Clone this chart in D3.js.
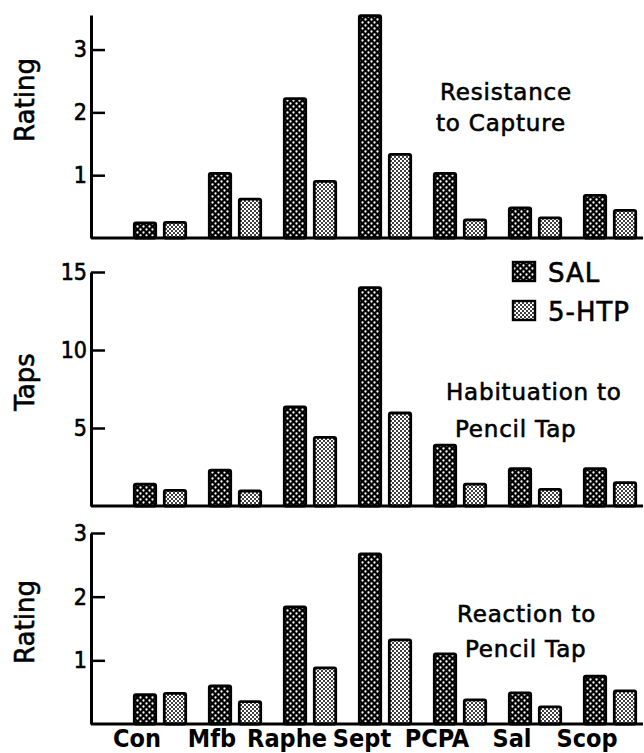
<!DOCTYPE html>
<html>
<head>
<meta charset="utf-8">
<script src="https://cdn.jsdelivr.net/npm/d3@7"></script>
<style>
  body { margin: 0; background: #fff; }
  text { font-family: "DejaVu Sans", sans-serif; fill: #000; }
  .heavy { stroke: #000; stroke-width: 0.6px; }
</style>
</head>
<body>
<div id="chart"></div>
<script>
const categories = ["Con", "Mfb", "Raphe", "Sept", "PCPA", "Sal", "Scop"];
const groups = ["SAL", "5-HTP"];

// Resistance to Capture (rating)
const captureSal = [0.24, 1.03, 2.22, 3.54, 1.03, 0.48, 0.68];
const capture5htp = [0.25, 0.62, 0.9, 1.33, 0.29, 0.32, 0.44];
// Habituation to Pencil Tap (taps)
const tapsSal = [1.4, 2.3, 6.35, 14.0, 3.9, 2.4, 2.4];
const taps5htp = [1.0, 0.96, 4.4, 5.96, 1.4, 1.06, 1.5];
// Reaction to Pencil Tap (rating)
const reactionSal = [0.46, 0.6, 1.84, 2.67, 1.1, 0.49, 0.75];
const reaction5htp = [0.48, 0.35, 0.88, 1.32, 0.38, 0.27, 0.52];

const captureTicks = [1, 2, 3];
const tapsTicks = [5, 10, 15];
const reactionTicks = [1, 2, 3];

document.addEventListener('DOMContentLoaded', function() {
    const width = 644;
    const height = 753;
    const axisX = 91;

    const svg = d3.select("#chart").append("svg")
        .attr("width", width)
        .attr("height", height);

    // fill patterns: dark stipple for SAL, light stipple for 5-HTP
    const defs = svg.append("defs");
    const pSal = defs.append("pattern")
        .attr("id", "pat-sal")
        .attr("patternUnits", "userSpaceOnUse")
        .attr("width", 6).attr("height", 6);
    pSal.append("rect").attr("width", 6).attr("height", 6).attr("fill", "#000");
    pSal.append("circle").attr("cx", 1.5).attr("cy", 1.5).attr("r", 1.15).attr("fill", "#fff");
    pSal.append("circle").attr("cx", 4.5).attr("cy", 4.5).attr("r", 1.15).attr("fill", "#fff");

    const pHtp = defs.append("pattern")
        .attr("id", "pat-htp")
        .attr("patternUnits", "userSpaceOnUse")
        .attr("width", 4).attr("height", 4);
    pHtp.append("rect").attr("width", 4).attr("height", 4).attr("fill", "#fff");
    pHtp.append("circle").attr("cx", 1).attr("cy", 1).attr("r", 1.0).attr("fill", "#000");
    pHtp.append("circle").attr("cx", 3).attr("cy", 3).attr("r", 1.0).attr("fill", "#000");

    const fills = { "SAL": "url(#pat-sal)", "5-HTP": "url(#pat-htp)" };

    const x = d3.scaleBand()
        .domain(categories)
        .range([133, 637])
        .paddingInner(0.28)
        .paddingOuter(0);

    const xSub = d3.scaleBand()
        .domain(groups)
        .range([0, x.bandwidth()])
        .paddingInner(0.2);

    const panels = [
        { sal: captureSal, htp: capture5htp, ticks: captureTicks, max: 3.55, top: 15, base: 238,
          title: "Rating", titleY: 100, note: ["Resistance", "to Capture"], noteX: [440, 436], noteY: [100, 131] },
        { sal: tapsSal, htp: taps5htp, ticks: tapsTicks, max: 15, top: 272, base: 506,
          title: "Taps", titleY: 382, note: ["Habituation to", "Pencil Tap"], noteX: [446, 455], noteY: [400, 437] },
        { sal: reactionSal, htp: reaction5htp, ticks: reactionTicks, max: 3, top: 533, base: 724,
          title: "Rating", titleY: 622, note: ["Reaction to", "Pencil Tap"], noteX: [457, 465], noteY: [622, 657] }
    ];

    panels.forEach(function(p) {
        const y = d3.scaleLinear().domain([0, p.max]).range([p.base, p.top]);
        const g = svg.append("g");

        const rows = categories.map(function(c, i) {
            return { cat: c, values: [{ key: "SAL", v: p.sal[i] }, { key: "5-HTP", v: p.htp[i] }] };
        });

        g.selectAll("g.grp")
            .data(rows)
            .enter().append("g")
            .attr("class", "grp")
            .attr("transform", function(d) { return "translate(" + x(d.cat) + ",0)"; })
            .selectAll("rect")
            .data(function(d) { return d.values; })
            .enter().append("rect")
            .attr("x", function(d) { return xSub(d.key) + 1.3; })
            .attr("width", xSub.bandwidth() - 2.6)
            .attr("y", function(d) { return y(d.v); })
            .attr("height", function(d) { return p.base - y(d.v); })
            .attr("rx", 1.5)
            .attr("fill", function(d) { return fills[d.key]; })
            .attr("stroke", "#000")
            .attr("stroke-width", 2.8);

        // baseline
        g.append("line")
            .attr("x1", axisX).attr("x2", 643)
            .attr("y1", p.base).attr("y2", p.base)
            .attr("stroke", "#000").attr("stroke-width", 3);

        const axis = d3.axisLeft(y)
            .tickValues(p.ticks)
            .tickSizeInner(-14)
            .tickSizeOuter(0)
            .tickPadding(4)
            .tickFormat(d3.format("d"));

        const ax = g.append("g")
            .attr("transform", "translate(" + axisX + ",0)")
            .call(axis);
        ax.select(".domain").attr("stroke-width", 3);
        ax.selectAll(".tick line").attr("stroke-width", 2.5);
        ax.selectAll(".tick text")
            .attr("class", "heavy")
            .style("font-family", "'DejaVu Sans Condensed', 'DejaVu Sans', sans-serif")
            .style("font-size", "23px")
            .attr("fill", "#000");

        g.append("text")
            .attr("class", "heavy")
            .attr("transform", "translate(34," + p.titleY + ") rotate(-90)")
            .attr("text-anchor", "middle")
            .style("font-size", "26px")
            .text(p.title);

        p.note.forEach(function(t, i) {
            g.append("text")
                .attr("class", "heavy")
                .attr("x", p.noteX[i])
                .attr("y", p.noteY[i])
                .style("font-size", "23px")
                .style("letter-spacing", "0.8px")
                .text(t);
        });
    });

    // category labels under the bottom panel
    svg.selectAll("text.cat")
        .data(categories)
        .enter().append("text")
        .attr("class", "cat")
        .attr("x", function(d) { return x(d) + 4; })
        .attr("y", 747)
        .attr("text-anchor", "middle")
        .style("font-family", "'DejaVu Sans Condensed', 'DejaVu Sans', sans-serif")
        .style("font-weight", "bold")
        .style("font-size", "25px")
        .text(function(d) { return d; });

    // legend
    const legend = svg.append("g");
    groups.forEach(function(k, i) {
        const ly = 262 + i * 39;
        legend.append("rect")
            .attr("x", 513).attr("y", ly)
            .attr("width", 22).attr("height", 19)
            .attr("fill", fills[k])
            .attr("stroke", "#000").attr("stroke-width", 2.4);
        legend.append("text")
            .attr("class", "heavy")
            .attr("x", 548).attr("y", ly + 20)
            .style("font-size", "26px")
            .style("letter-spacing", "1px")
            .text(k);
    });
});
</script>
</body>
</html>
